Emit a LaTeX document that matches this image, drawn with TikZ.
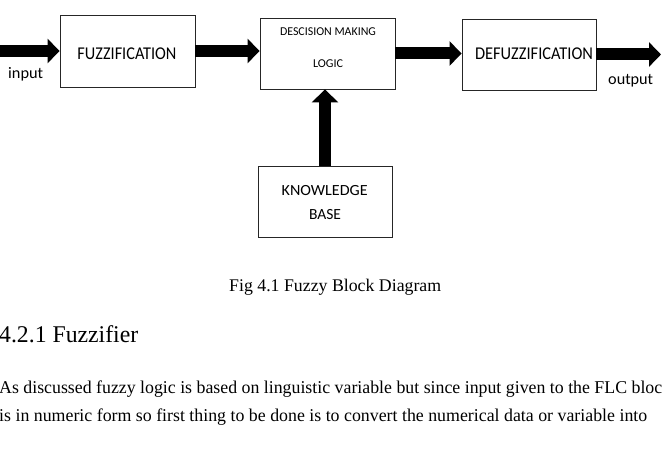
\documentclass[tikz,border=0pt]{standalone}
\usepackage{fontspec}
\usepackage{graphicx}
\setmainfont{Liberation Serif}
\newfontfamily\calibrifont{Carlito}
\usetikzlibrary{arrows.meta}
\newcommand\fitw[3]{\resizebox{#1}{\height}{\fontsize{#2}{#2}\selectfont #3}}
\begin{document}
\begin{tikzpicture}[x=1pt,y=-1pt,
  blk/.style={draw=black!85, line width=0.9pt, inner sep=0pt, minimum width=134pt, minimum height=71pt},
  barrow/.style={line width=12pt, -{Triangle[length=12pt,width=24pt]}},
  vbarrow/.style={line width=12pt, -{Triangle[length=13pt,width=26pt]}},
  btxt/.style={inner sep=0pt, anchor=base, font=\calibrifont},
  lbl/.style={inner sep=0pt, anchor=base west, font=\calibrifont},
  txt/.style={inner sep=0pt, anchor=base west}]
\useasboundingbox (0,0) rectangle (664,462);
\fill[white] (0,0) rectangle (664,462);
% boxes
\node[blk, minimum width=135pt, minimum height=72pt] (fuzz) at (127.5,51) {};
\node[blk, minimum width=135pt] (dml) at (327.5,53.5) {};
\node[blk] (defuzz) at (529,54.5) {};
\node[blk] (kb) at (325,201.5) {};
% box texts
\node[btxt] (fuzzt) at (127,59.3) {\fitw{99pt}{18pt}{FUZZIFICATION}};
\node[btxt] (dmlt1) at (328,36) {\fitw{96pt}{12pt}{DESCISION MAKING}};
\node[btxt] (dmlt2) at (328,67.5) {\fitw{30pt}{12pt}{LOGIC}};
\node[btxt] (defuzzt) at (534,59.3) {\fitw{118pt}{18pt}{DEFUZZIFICATION}};
\node[btxt] (kbt1) at (324.7,196) {\fitw{86pt}{15.5pt}{KNOWLEDGE}};
\node[btxt] (kbt2) at (325,219.3) {\fitw{32pt}{15.5pt}{BASE}};
% arrows
\coordinate (in) at (-2,51);
\coordinate (out) at (661,54.5);
\draw[barrow] (in) -- (fuzz.west);
\draw[barrow] (fuzz.east) -- (fuzz.east -| dml.west);
\draw[barrow] (dml.east) -- (dml.east -| defuzz.west);
\draw[barrow] (defuzz.east) -- (out);
\draw[vbarrow] (kb.north) -- (kb.north |- dml.south);
% labels
\node[lbl] (inl) at (8,78.5) {\fitw{35pt}{16pt}{input}};
\node[lbl] (outl) at (608,84.5) {\fitw{45pt}{16pt}{output}};
% caption and text below
\node[txt] (cap) at (229,292) {\fitw{212pt}{17.8pt}{Fig 4.1 Fuzzy Block Diagram}};
\node[txt] (head) at (-1,342) {\fitw{139pt}{24pt}{4.2.1 Fuzzifier}};
\node[txt] (par1) at (-1,393.5) {\fitw{663pt}{18pt}{As discussed fuzzy logic is based on linguistic variable but since input given to the FLC bloc}};
\node[txt] (par2) at (-1,421) {\fitw{648pt}{18pt}{is in numeric form so first thing to be done is to convert the numerical data or variable into}};
\end{tikzpicture}
\end{document}
